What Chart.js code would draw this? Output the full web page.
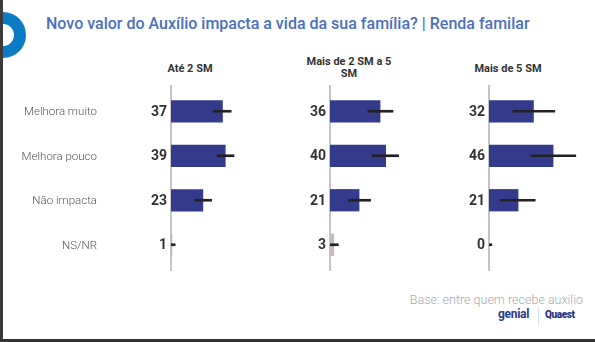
<!DOCTYPE html>
<html lang="pt-BR">
<head>
<meta charset="UTF-8">
<title>Novo valor do Auxílio impacta a vida da sua família? | Renda familar</title>
<script src="https://cdn.jsdelivr.net/npm/chart.js@4.4.2/dist/chart.umd.min.js"></script>
<style>
    body {
        margin: 0;
        width: 595px;
        height: 342px;
        overflow: hidden;
        background: #fff;
        font-family: 'Roboto', sans-serif;
        position: relative;
    }
    .borda-esq { position: absolute; left: 0; top: 0; width: 3px; height: 342px; background: #3b3b3b; z-index: 2; }
    .borda-inf { position: absolute; left: 0; top: 339px; width: 595px; height: 3px; background: #333; z-index: 2; }
    .anel { position: absolute; left: -20px; top: 12px; width: 22px; height: 22px; border: 12px solid #0a7bc4; border-radius: 50%; }
    .titulo { position: absolute; left: 46px; top: 14px; font-size: 16px; font-weight: 500; color: #4a6fc0; white-space: nowrap; }
    .cabecalho { position: absolute; width: 120px; text-align: center; font-size: 11px; font-weight: 700; color: #333; line-height: 12px; }
    .painel { position: absolute; top: 85px; height: 186px; }
    .base { position: absolute; right: 12px; top: 292px; font-size: 12.5px; font-weight: 300; color: #aaa; }
    .logos { position: absolute; left: 496px; top: 307px; height: 20px; width: 85px; }
    .genial { position: absolute; left: 2px; top: 0; font-size: 12px; font-weight: 700; color: #2d3a8c; letter-spacing: -0.3px; }
    .sep { position: absolute; left: 42px; top: 1px; width: 1px; height: 18px; background: #cfe3f3; }
    .quaest { position: absolute; left: 49px; top: 2px; font-size: 10px; font-weight: 900; color: #2a3580; letter-spacing: -0.4px; }
</style>
</head>
<body>
    <div class="borda-esq"></div>
    <div class="anel"></div>
    <div class="titulo">Novo valor do Auxílio impacta a vida da sua família? | Renda familar</div>

    <div id="cabecalhos"></div>

    <div class="painel" style="left:0; width:276px;"><canvas id="grafico1"></canvas></div>
    <div class="painel" style="left:290px; width:145px;"><canvas id="grafico2"></canvas></div>
    <div class="painel" style="left:449px; width:145px;"><canvas id="grafico3"></canvas></div>

    <div class="base">Base: entre quem recebe auxilio</div>
    <div class="logos">
        <span class="genial">genial</span>
        <span class="sep"></span>
        <span class="quaest">Quaest</span>
    </div>
    <div class="borda-inf"></div>

<script>
// --- dados ---
const categorias = ['Melhora muito', 'Melhora pouco', 'Não impacta', 'NS/NR'];
const faixas = [['Até 2 SM'], ['Mais de 2 SM a 5', 'SM'], ['Mais de 5 SM']];

const ate2 = [37, 39, 23, 1];
const de2a5 = [36, 40, 21, 3];
const mais5 = [32, 46, 21, 0];

// margem de erro (inicio, fim)
const erroAte2 = [[30, 43], [33, 45], [17, 29], [0, 3]];
const erroDe2a5 = [[27, 45], [30, 49], [13, 29], [0, 6]];
const erroMais5 = [[17, 47], [30, 62], [8, 33], [0, 2]];

// --- cores ---
const corBarra = '#343b8c';
const corNsnr = '#c5bdbd';
const cores = categorias.map(c => c === 'NS/NR' ? corNsnr : corBarra);

// cabecalhos das faixas (centro = eixo + 19)
const centros = [190, 349, 508];
const topos = [63, 56, 63];
const alvo = document.getElementById('cabecalhos');
faixas.forEach((linhas, i) => {
    const div = document.createElement('div');
    div.className = 'cabecalho';
    div.style.left = (centros[i] - 60) + 'px';
    div.style.top = topos[i] + 'px';
    div.innerHTML = linhas.join('<br>');
    alvo.appendChild(div);
});

// linha do eixo, valores e (no primeiro painel) categorias
const eixoERotulos = {
    id: 'eixoERotulos',
    beforeDatasetsDraw(chart) {
        const { ctx, scales: { x } } = chart;
        const x0 = x.getPixelForValue(0);
        ctx.save();
        ctx.strokeStyle = '#c4c4c4';
        ctx.lineWidth = 2;
        ctx.beginPath();
        ctx.moveTo(x0, 0);
        ctx.lineTo(x0, chart.height);
        ctx.stroke();
        ctx.restore();
    },
    afterDatasetsDraw(chart, args, opts) {
        const { ctx, scales: { x, y } } = chart;
        const x0 = x.getPixelForValue(0);
        ctx.save();
        ctx.textAlign = 'right';
        ctx.textBaseline = 'middle';
        chart.data.datasets[0].data.forEach((v, i) => {
            const yy = y.getPixelForValue(i) + 1;
            ctx.fillStyle = '#333';
            ctx.font = 'bold 14px Roboto';
            ctx.fillText(v, x0 - 4, yy);
            if (opts.categorias) {
                ctx.fillStyle = '#555';
                ctx.font = '300 11.5px Roboto';
                ctx.fillText(chart.data.labels[i], x0 - 74, yy);
            }
        });
        ctx.restore();
    }
};

Chart.defaults.font.family = 'Roboto';

function criarGrafico(id, valores, erros, larguraEixo, mostrarCategorias) {
    new Chart(document.getElementById(id), {
        type: 'bar',
        data: {
            labels: categorias,
            datasets: [
                {
                    data: valores,
                    backgroundColor: cores,
                    barPercentage: 0.5,
                    categoryPercentage: 1,
                    grouped: false,
                    order: 2
                },
                {
                    data: erros,
                    backgroundColor: '#222',
                    barThickness: 2,
                    grouped: false,
                    order: 1
                }
            ]
        },
        options: {
            indexAxis: 'y',
            responsive: true,
            maintainAspectRatio: false,
            animation: false,
            layout: { padding: { top: 4, bottom: 4, left: 0, right: 0 } },
            scales: {
                x: { display: false, min: 0, max: 75 },
                y: {
                    afterFit: s => { s.width = larguraEixo; },
                    grid: { display: false, drawTicks: false },
                    border: { display: false },
                    ticks: { display: false }
                }
            },
            plugins: {
                legend: { display: false },
                tooltip: { enabled: false },
                eixoERotulos: { categorias: mostrarCategorias }
            }
        },
        plugins: [eixoERotulos]
    });
}

criarGrafico('grafico1', ate2, erroAte2, 171, true);
criarGrafico('grafico2', de2a5, erroDe2a5, 40, false);
criarGrafico('grafico3', mais5, erroMais5, 40, false);
</script>
</body>
</html>
